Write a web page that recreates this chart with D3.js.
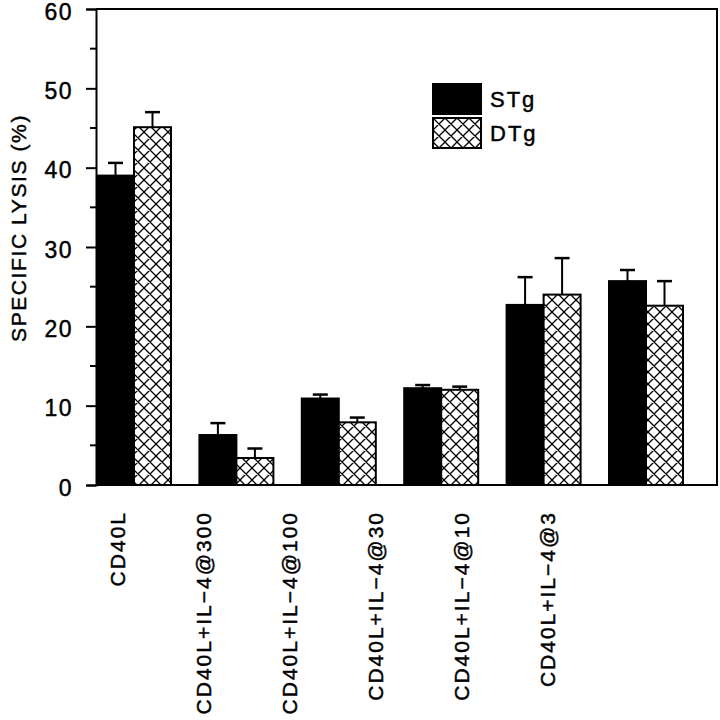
<!DOCTYPE html>
<html>
<head>
<meta charset="utf-8">
<script src="https://cdn.jsdelivr.net/npm/d3@7"></script>
<style>
  body { margin: 0; background: #fff; }
  svg { display: block; font-family: "Liberation Sans", Arial, sans-serif; }
</style>
</head>
<body>
<script>
// chart values
const categories = ["CD40L", "CD40L+IL\u22124@300", "CD40L+IL\u22124@100",
                    "CD40L+IL\u22124@30", "CD40L+IL\u22124@10", "CD40L+IL\u22124@3"];
const seriesNames = ["STg", "DTg"];
const stgValues = [39.0, 6.3, 10.9, 12.2, 22.7, 25.7];
const stgErrors = [1.6, 1.5, 0.5, 0.4, 3.5, 1.4];
const dtgValues = [45.1, 3.4, 7.9, 12.0, 24.0, 22.6];
const dtgErrors = [1.9, 1.2, 0.6, 0.4, 4.6, 3.1];
const yTicks = [0, 10, 20, 30, 40, 50, 60];
const yMinorTicks = [5, 15, 25, 35, 45, 55];
const yTitle = "SPECIFIC LYSIS (%)";

const W = 720, H = 720;
const plot = {left: 96, right: 717, top: 9, bottom: 485};

let svg, x, xSub, xLabel, y;

const rows = [];
categories.forEach((c, i) => {
  rows.push({cat: c, series: "STg", value: stgValues[i], err: stgErrors[i]});
  rows.push({cat: c, series: "DTg", value: dtgValues[i], err: dtgErrors[i]});
});

setupSvg();
setupScales();
appendPattern();
appendBars();
appendErrorBars();
appendFrame();
appendYAxis();
appendXLabels();
appendLegend();

function setupSvg() {
  svg = d3.select("body").append("svg")
    .attr("width", W)
    .attr("height", H);
}

function setupScales() {
  // group centres
  x = d3.scalePoint().domain(categories).range([134, 646]);
  // bars inside a group
  xSub = d3.scaleBand().domain(seriesNames).range([-37, 37]).padding(0);
  // the category labels sit on their own, tighter spacing
  xLabel = d3.scalePoint().domain(categories).range([117, 547]);
  y = d3.scaleLinear().domain([0, 60]).range([plot.bottom, plot.top]);
}

// the scanned lettering is a bit heavier than plain regular
function heavy(sel) {
  sel.attr("fill", "#000").attr("stroke", "#000").attr("stroke-width", 0.45);
}

function appendPattern() {
  const p = svg.append("defs").append("pattern")
    .attr("id", "xhatch")
    .attr("patternUnits", "userSpaceOnUse")
    .attr("width", 12)
    .attr("height", 12);
  p.append("rect").attr("width", 12).attr("height", 12).attr("fill", "#fff");
  p.append("path")
    .attr("d", "M0,0L12,12M12,0L0,12M-3,9L3,15M9,-3L15,3M-3,3L3,-3M9,15L15,9")
    .attr("stroke", "#000")
    .attr("stroke-width", 1.3)
    .attr("fill", "none");
}

function fillFor(s) {
  return s === "STg" ? "#000" : "url(#xhatch)";
}

function appendBars() {
  svg.append("g").selectAll("rect")
    .data(rows)
    .enter()
    .append("rect")
      .attr("x", d => x(d.cat) + xSub(d.series))
      .attr("y", d => y(d.value))
      .attr("width", xSub.bandwidth())
      .attr("height", d => y(0) - y(d.value))
      .attr("fill", d => fillFor(d.series))
      .attr("stroke", "#000")
      .attr("stroke-width", 2);
}

function appendErrorBars() {
  const g = svg.append("g").attr("stroke", "#000").attr("fill", "none");
  const cx = d => x(d.cat) + xSub(d.series) + xSub.bandwidth() / 2;

  g.selectAll("line.stem")
    .data(rows)
    .enter()
    .append("line")
      .attr("class", "stem")
      .attr("x1", cx).attr("x2", cx)
      .attr("y1", d => y(d.value))
      .attr("y2", d => y(d.value + d.err))
      .attr("stroke-width", 2);

  g.selectAll("line.cap")
    .data(rows)
    .enter()
    .append("line")
      .attr("class", "cap")
      .attr("x1", d => cx(d) - 7.5).attr("x2", d => cx(d) + 7.5)
      .attr("y1", d => y(d.value + d.err))
      .attr("y2", d => y(d.value + d.err))
      .attr("stroke-width", 2.5);
}

function appendFrame() {
  svg.append("path")
    .attr("d", `M${plot.left},${plot.top}H${plot.right}V${plot.bottom}H${plot.left}`)
    .attr("fill", "none")
    .attr("stroke", "#000")
    .attr("stroke-width", 2);
}

function appendYAxis() {
  const g = svg.append("g").attr("transform", `translate(${plot.left},0)`);

  g.call(d3.axisLeft(y).tickValues(yTicks).tickSize(10).tickPadding(13))
    .call(a => a.select(".domain").attr("stroke-width", 2))
    .call(a => a.selectAll(".tick line").attr("stroke-width", 2))
    .call(a => a.selectAll(".tick text")
      .attr("font-size", 23)
      .attr("dy", "0.44em")
      .attr("letter-spacing", 1.5)
      .attr("font-family", "Liberation Sans, Arial, sans-serif")
      .call(heavy));

  g.selectAll("line.minor")
    .data(yMinorTicks)
    .enter()
    .append("line")
      .attr("class", "minor")
      .attr("x1", -6).attr("x2", 0)
      .attr("y1", d => y(d)).attr("y2", d => y(d))
      .attr("stroke", "#000")
      .attr("stroke-width", 2);

  svg.append("text")
    .attr("transform", `translate(26,228) rotate(-90)`)
    .attr("text-anchor", "middle")
    .attr("font-size", 21)
    .attr("letter-spacing", 1.6)
    .text(yTitle)
    .call(heavy);
}

function appendXLabels() {
  svg.append("g").selectAll("text")
    .data(categories)
    .enter()
    .append("text")
      .attr("transform", d => `translate(${xLabel(d) + 8},511) rotate(-90)`)
      .attr("text-anchor", "end")
      .attr("font-size", 21)
      .attr("letter-spacing", 2)
      .text(d => d)
      .call(heavy);
}

function appendLegend() {
  const lg = svg.append("g")
    .attr("class", "legend")
    .attr("transform", "translate(433,84)");

  const item = lg.selectAll("g")
    .data(seriesNames)
    .enter()
    .append("g")
      .attr("transform", (d, i) => `translate(0,${i * 34})`);

  item.append("rect")
    .attr("width", 48)
    .attr("height", 30)
    .attr("fill", d => fillFor(d))
    .attr("stroke", "#000")
    .attr("stroke-width", 2);

  item.append("text")
    .attr("x", 57)
    .attr("y", 23)
    .attr("font-size", 22)
    .attr("letter-spacing", 2)
    .text(d => d)
    .call(heavy);
}
</script>
</body>
</html>
